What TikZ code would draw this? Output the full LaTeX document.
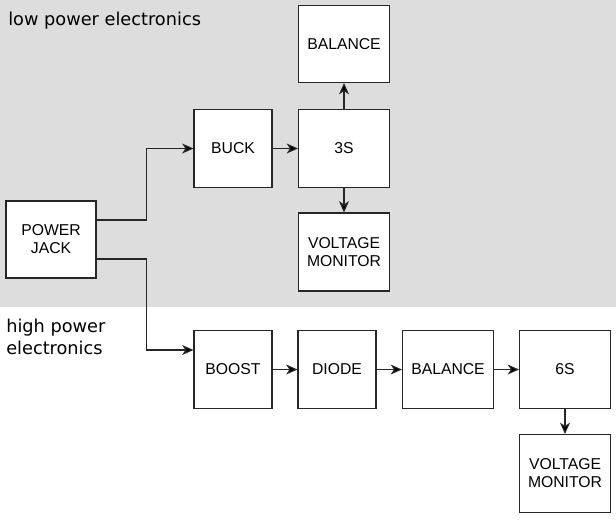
\documentclass[tikz,border=0pt]{standalone}
\usepackage{fontspec}
\setmainfont{Liberation Sans}
\newfontfamily\dejavu{DejaVu Sans}
\usetikzlibrary{arrows.meta,calc}
\definecolor{bggray}{RGB}{221,221,221}
\tikzset{
  blk/.style={draw=black!85, fill=white, line width=0.8pt, inner sep=0pt, align=center,
    minimum height=58.5pt, font=\fontsize{11.8}{13.5}\selectfont},
  narrow/.style={blk, minimum width=58.5pt},
  wide/.style={blk, minimum width=68.25pt},
  conn/.style={draw=black!85, line width=0.8pt, -{Stealth[length=8.5pt,width=7.5pt,inset=2.5pt,fill=black]}},
  grplabel/.style={anchor=west, inner sep=0pt, align=left, font=\dejavu\fontsize{13.3}{16.5}\selectfont}
}
\begin{document}
\begin{tikzpicture}[x=0.75pt,y=-0.75pt]
\useasboundingbox (0,0) rectangle (616,519);
\fill[bggray] (0,0) rectangle (616,307);
\node[grplabel] (lowlbl) at (8,21) {low power electronics};
\node[grplabel] (highlbl) at (6,337) {high power\\electronics};

\node[blk, minimum width=67.5pt, minimum height=57.75pt] (pj) at (51,239.5) {POWER\\JACK};
\node[narrow] (buck) at (233,148.5) {BUCK};
\node[wide] (s3) at (344,148.5) {3S};
\node[wide, minimum height=57.75pt] (bal1) at (344,44) {BALANCE};
\node[wide] (vm1) at (344,252) {VOLTAGE\\MONITOR};
\node[narrow] (boost) at (233,369.5) {BOOST};
\node[narrow] (diode) at (337,369.5) {DIODE};
\node[wide] (bal2) at (448,369.5) {BALANCE};
\node[wide] (s6) at (565,369.5) {6S};
\node[wide] (vm2) at (565,473.5) {VOLTAGE\\MONITOR};

\draw[conn] ($(pj.east)+(0,-19.5)$) -- ++(50,0) |- (buck.west);
\draw[conn] ($(pj.east)+(0,19.5)$) -- ++(50,0) |- ($(boost.west)+(0,-19.5)$);
\draw[conn] (buck) -- (s3);
\draw[conn] (s3) -- (bal1);
\draw[conn] (s3) -- (vm1);
\draw[conn] (boost) -- (diode);
\draw[conn] (diode) -- (bal2);
\draw[conn] (bal2) -- (s6);
\draw[conn] (s6) -- (vm2);
\end{tikzpicture}
\end{document}
